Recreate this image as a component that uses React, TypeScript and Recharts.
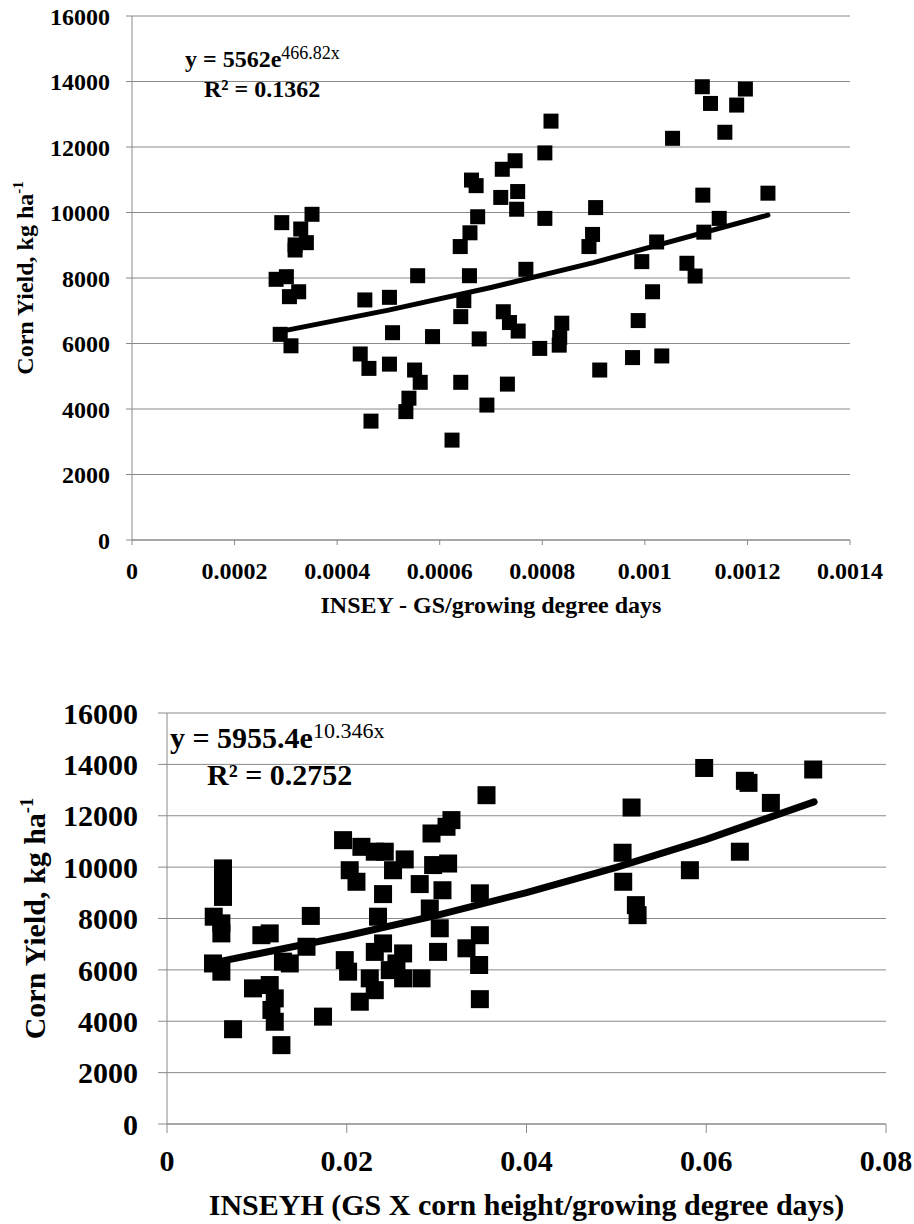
import React from 'react';
import { ScatterChart, Scatter, XAxis, YAxis, CartesianGrid, Label } from 'recharts';

const FONT = '"Liberation Serif", "Times New Roman", serif';
const GRID = '#8a8a8a';

// top panel: INSEY vs corn yield
const INSEY = [
  0.000292, 0.000351, 0.000329, 0.00034, 0.000318, 0.000318, 0.000281, 0.000301, 0.000325, 0.000307,
  0.000289, 0.00031, 0.000557, 0.000454, 0.000502, 0.000508, 0.000586, 0.000445, 0.000462, 0.000502,
  0.000551, 0.000562, 0.00054, 0.000534, 0.000466, 0.000624, 0.000641, 0.000692, 0.000732, 0.000677,
  0.000641, 0.000647, 0.000658, 0.00064, 0.000659, 0.000674, 0.000662, 0.000671, 0.000722, 0.000747,
  0.000719, 0.000752, 0.00075, 0.000724, 0.000736, 0.000753, 0.000795, 0.000768, 0.000805, 0.000805,
  0.000817, 0.000904, 0.000898, 0.000891, 0.001023, 0.000994, 0.001015, 0.000987, 0.000976, 0.001033,
  0.000912, 0.000838, 0.000834, 0.000833, 0.001054, 0.001112, 0.001128, 0.001196, 0.001179, 0.001156,
  0.001113, 0.00124, 0.001145, 0.001115, 0.001082, 0.001098,
];
const YIELD_1 = [
  9690, 9945, 9496, 9079, 9010, 8855, 7960, 8040, 7580, 7430,
  6280, 5930, 8070, 7330, 7410, 6330, 6210, 5680, 5240, 5370,
  5190, 4815, 4330, 3920, 3630, 3050, 4815, 4120, 4760, 6140,
  6820, 7310, 8070, 8960, 9380, 9870, 10990, 10820, 11320, 11580,
  10460, 10640, 10100, 6970, 6640, 6380, 5850, 8265, 11820, 9820,
  12790, 10150, 9330, 8960, 9100, 8500, 7580, 6700, 5570, 5620,
  5190, 6620, 6180, 5950, 12265, 13840, 13330, 13770, 13280, 12450,
  10530, 10590, 9820, 9400, 8450, 8060,
];
// exponential trendline
const TREND1_X = [0.00029, 0.0005, 0.0007, 0.0009, 0.00124];
const TREND1_Y = [6370, 7020, 7710, 8470, 9920];

// bottom panel: INSEYH vs corn yield
const INSEYH = [
  0.00623, 0.00623, 0.00623, 0.00623, 0.0052, 0.00605, 0.00605, 0.00512, 0.00605, 0.00735,
  0.0105, 0.01143, 0.01366, 0.0129, 0.01552, 0.016, 0.00957, 0.01143, 0.01199, 0.01162,
  0.01199, 0.01273, 0.01736, 0.01959, 0.02163, 0.02312, 0.02423, 0.02645, 0.02515, 0.02033,
  0.02108, 0.02404, 0.02348, 0.02812, 0.02943, 0.0311, 0.02961, 0.03128, 0.03065, 0.02924,
  0.03035, 0.03016, 0.03332, 0.01978, 0.02015, 0.02145, 0.02256, 0.02312, 0.02312, 0.02404,
  0.02479, 0.02627, 0.02627, 0.02832, 0.02553, 0.03555, 0.03165, 0.03481, 0.03481, 0.03473,
  0.03481, 0.05169, 0.05069, 0.05076, 0.05217, 0.05236, 0.05818, 0.05977, 0.0643, 0.0647,
  0.06719, 0.06374, 0.0719,
];
const YIELD_2 = [
  9950, 9560, 9230, 8840, 8070, 7810, 7420, 6250, 5930, 3690,
  7350, 7420, 6250, 6320, 6900, 8100, 5280, 5410, 4890, 4440,
  3980, 3070, 4180, 11050, 10790, 10600, 10600, 10300, 9880, 9880,
  9430, 8950, 8070, 9340, 11310, 11570, 10080, 10140, 9100, 8390,
  7620, 6700, 6840, 6380, 5930, 4760, 5670, 5210, 6700, 7030,
  5990, 6640, 5670, 5670, 6250, 12800, 11830, 8980, 7350, 6190,
  4860, 12320, 10560, 9430, 8520, 8130, 9880, 13860, 13360, 13280,
  12500, 10600, 13800,
];
const TREND2_X = [0.0058, 0.02, 0.03, 0.04, 0.05, 0.06, 0.072];
const TREND2_Y = [6320, 7330, 8120, 9010, 9990, 11080, 12540];

const Y_TICKS = [0, 2000, 4000, 6000, 8000, 10000, 12000, 14000, 16000];
const X1_TICKS = [0, 0.0002, 0.0004, 0.0006, 0.0008, 0.001, 0.0012, 0.0014];
const X2_TICKS = [0, 0.02, 0.04, 0.06, 0.08];

const toPoints = (xs: number[], ys: number[]) => xs.map((x, i) => ({ x, y: ys[i] }));

type PanelProps = {
  points: { x: number; y: number }[];
  trend: { x: number; y: number }[];
  xTicks: number[];
  xTitle: string;
  height: number;
  margin: { top: number; right: number; left: number; bottom: number };
  yAxisWidth: number;
  xAxisHeight: number;
  fontSize: number;
  ySize: number;
  yMargin: number;
  xSize: number;
  xMargin: number;
  marker: number;
  lineWidth: number;
  xTitleDy: number;
  yTitleX: number;
};

function Panel(p: PanelProps) {
  const tick = { fontSize: p.fontSize, fontWeight: 700, fill: '#000', fontFamily: FONT };
  const half = p.marker / 2;
  return (
    <ScatterChart width={914} height={p.height} margin={p.margin}>
      <CartesianGrid horizontal vertical={false} stroke={GRID} />
      <XAxis
        type="number"
        dataKey="x"
        domain={[p.xTicks[0], p.xTicks[p.xTicks.length - 1]]}
        ticks={p.xTicks}
        interval={0}
        height={p.xAxisHeight}
        tick={tick}
        tickSize={p.xSize}
        tickMargin={p.xMargin}
        axisLine={{ stroke: GRID }}
        tickLine={{ stroke: GRID }}
      >
        <Label
          content={({ viewBox }: any) => (
            <text
              x={viewBox.x + viewBox.width / 2}
              y={viewBox.y + p.xTitleDy}
              textAnchor="middle"
              fontFamily={FONT}
              fontWeight={700}
              fontSize={p.fontSize}
              fill="#000"
            >
              {p.xTitle}
            </text>
          )}
        />
      </XAxis>
      <YAxis
        type="number"
        dataKey="y"
        domain={[0, 16000]}
        ticks={Y_TICKS}
        interval={0}
        width={p.yAxisWidth}
        tick={tick}
        tickSize={p.ySize}
        tickMargin={p.yMargin}
        axisLine={{ stroke: GRID }}
        tickLine={{ stroke: GRID }}
      >
        <Label
          content={({ viewBox }: any) => {
            const cy = viewBox.y + viewBox.height / 2;
            return (
              <text
                x={p.yTitleX}
                y={cy}
                transform={`rotate(-90, ${p.yTitleX}, ${cy})`}
                textAnchor="middle"
                fontFamily={FONT}
                fontWeight={700}
                fontSize={p.fontSize}
                fill="#000"
              >
                Corn Yield, kg ha
                <tspan dy={-p.fontSize * 0.4} fontSize={p.fontSize * 0.62}>
                  -1
                </tspan>
              </text>
            );
          }}
        />
      </YAxis>
      <Scatter
        data={p.points}
        isAnimationActive={false}
        shape={(s: any) => <rect x={s.cx - half} y={s.cy - half} width={p.marker} height={p.marker} fill="#000" />}
      />
      <Scatter
        data={p.trend}
        isAnimationActive={false}
        line={{ stroke: '#000', strokeWidth: p.lineWidth, strokeLinecap: 'round' }}
        shape={() => <g />}
      />
    </ScatterChart>
  );
}

export default function App() {
  return (
    <div style={{ position: 'absolute', left: 0, top: 0, width: 914, height: 1224, background: '#fff' }}>
      <div style={{ position: 'absolute', left: 0, top: 0 }}>
        <Panel
          points={toPoints(INSEY, YIELD_1)}
          trend={toPoints(TREND1_X, TREND1_Y)}
          xTicks={X1_TICKS}
          xTitle="INSEY - GS/growing degree days"
          height={620}
          margin={{ top: 16, right: 64, left: 0, bottom: 0 }}
          yAxisWidth={132}
          xAxisHeight={80}
          fontSize={24}
          ySize={6}
          yMargin={16}
          xSize={5}
          xMargin={17}
          marker={15}
          lineWidth={5}
          xTitleDy={73}
          yTitleX={33}
        />
      </div>
      <div style={{ position: 'absolute', left: 0, top: 640 }}>
        <Panel
          points={toPoints(INSEYH, YIELD_2)}
          trend={toPoints(TREND2_X, TREND2_Y)}
          xTicks={X2_TICKS}
          xTitle="INSEYH (GS X corn height/growing degree days)"
          height={584}
          margin={{ top: 73, right: 28, left: 0, bottom: 0 }}
          yAxisWidth={167}
          xAxisHeight={100}
          fontSize={30}
          ySize={9}
          yMargin={20}
          xSize={9}
          xMargin={17}
          marker={18}
          lineWidth={7}
          xTitleDy={91}
          yTitleX={45}
        />
      </div>
      {/* regression equations */}
      <svg
        width={914}
        height={1224}
        style={{ position: 'absolute', left: 0, top: 0, pointerEvents: 'none' }}
        fontFamily={FONT}
        fill="#000"
      >
        <text x={185} y={67} fontSize={24} fontWeight={700}>
          y = 5562e
          <tspan dy={-8} fontSize={18} fontWeight={400}>
            466.82x
          </tspan>
        </text>
        <text x={204} y={97} fontSize={24} fontWeight={700}>
          R² = 0.1362
        </text>
        <text x={170} y={748} fontSize={30} fontWeight={700}>
          y = 5955.4e
          <tspan dy={-10} fontSize={22} fontWeight={400}>
            10.346x
          </tspan>
        </text>
        <text x={207} y={785} fontSize={30} fontWeight={700}>
          R² = 0.2752
        </text>
      </svg>
    </div>
  );
}
